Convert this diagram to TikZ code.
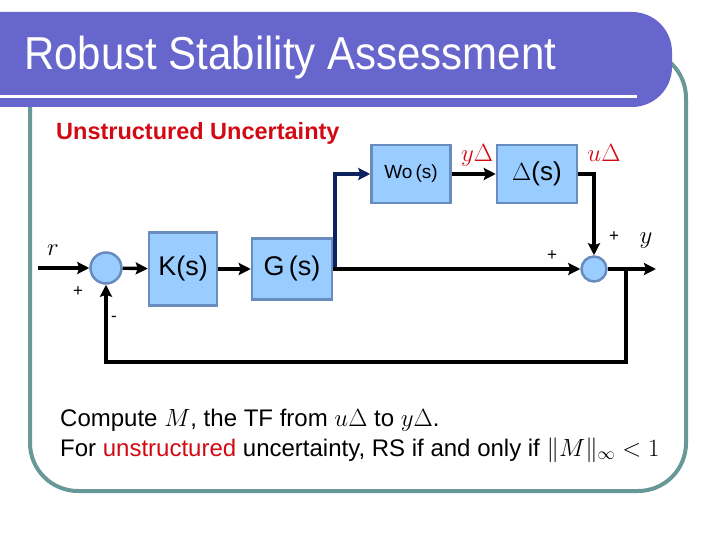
\documentclass[tikz,border=0pt]{standalone}
\usepackage{fontspec}
\setmainfont{Liberation Sans}
\usetikzlibrary{arrows.meta}
\definecolor{barblue}{RGB}{102,102,204}
\definecolor{frameteal}{RGB}{104,152,152}
\definecolor{boxfill}{RGB}{153,204,255}
\definecolor{boxedge}{RGB}{105,140,190}
\definecolor{navyline}{RGB}{14,34,96}
\definecolor{labelred}{RGB}{210,10,20}
\newcommand{\fs}[1]{\fontsize{#1}{#1}\selectfont}
\begin{document}
\begin{tikzpicture}[
  x=1pt, y=-1pt,
  block/.style={draw=boxedge, fill=boxfill, line width=2.5pt, inner sep=0pt},
  sumnode/.style={circle, draw=boxedge, fill=boxfill, line width=2.5pt, inner sep=0pt},
  conn/.style={line width=3.4pt, -{Stealth[length=12pt,width=12pt,inset=2pt]}},
  sign/.style={font=\fs{17}},
  redlab/.style={text=labelred, font=\fs{24}}
]
\useasboundingbox (0,0) rectangle (720,540);
% frame and title bar
\draw[frameteal, line width=4pt, rounded corners=48pt] (30,50) rectangle (686,491);
\fill[barblue] (0,12) [rounded corners=40pt] -- (672,12) -- (672,107) [sharp corners] -- (0,107) -- cycle;
\fill[white] (0,95) rectangle (637,98);
\node[anchor=base west, text=white, font=\fs{42}, inner sep=0pt] (title) at (24,70) {\scalebox{1}[1.1]{Robust Stability Assessment}};
\node[anchor=base west, text=labelred, font=\bfseries\fs{23.5}, inner sep=0pt] (sub) at (56,140) {Unstructured Uncertainty};

% blocks
\node[sumnode, minimum size=31pt] (sa) at (106,268) {};
\node[block, minimum width=68pt, minimum height=73pt, font=\fs{27}] (k) at (183,269) {K(s)};
\node[block, minimum width=80pt, minimum height=61pt, font=\fs{27}] (g) at (292,269) {G\,(s)};
\node[block, minimum width=79pt, minimum height=58pt, font=\fs{19}] (wo) at (411,174) {Wo\,(s)};
\node[block, minimum width=80pt, minimum height=58pt, font=\fs{26}] (delta) at (537,174) {$\Delta$(s)};
\node[sumnode, minimum size=25pt] (sb) at (594,269) {};

\coordinate (rin) at (38,268);
\coordinate (split) at (335,269);
\coordinate (fb) at (626,269);
\coordinate (fbl) at (106,362);
\coordinate (yout) at (656,269);

% connectors
\draw[navyline, line width=3.4pt, -{Stealth[length=12pt,width=12pt,inset=2pt]}] (split) |- (wo);
\draw[conn] (rin) -- (sa);
\draw[conn] (sa) -- (k);
\draw[conn] (k) -- (g);
\draw[conn] (g) -- (sb);
\draw[conn] (wo) -- (delta);
\draw[conn] (delta) -| (sb);
\draw[conn] (sb) -- (yout);
\draw[conn] (fb) |- (fbl) -- (sa);

% labels
\node[font=\fs{32}] (r) at (53,250) {$r$};
\node[font=\fs{32}] (y) at (646,241) {$y$};
\node[redlab] (ydl) at (477,155) {$y\Delta$};
\node[redlab] (udl) at (604,153) {$u\Delta$};
\node[sign] (pa) at (78,292) {+};
\node[sign] (ma) at (114,319) {-};
\node[sign] (pb) at (552,256) {+};
\node[sign] (pc) at (614,237) {+};

% bottom text
\node[anchor=base west, font=\fs{24}, inner sep=0pt] (l1) at (60,426) {Compute $M$, the TF from $u\Delta$ to $y\Delta$.};
\node[anchor=base west, font=\fs{24}, inner sep=0pt] (l2) at (60,456) {For \textcolor{labelred}{unstructured} uncertainty, RS if and only if $\|M\|_\infty<1$};
\end{tikzpicture}
\end{document}
